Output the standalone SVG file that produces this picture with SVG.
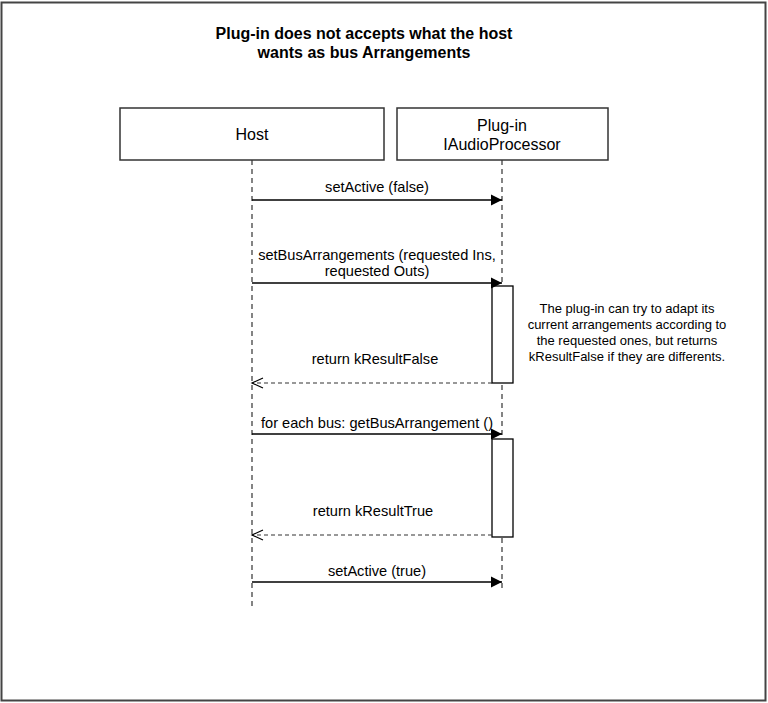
<svg xmlns="http://www.w3.org/2000/svg" width="768" height="703" viewBox="0 0 768 703">
<defs>
<marker id="solid" markerWidth="12" markerHeight="12" refX="11" refY="6" orient="auto" markerUnits="userSpaceOnUse">
<path d="M0,0.5 L11,6 L0,11.5 Z" fill="#000"/>
</marker>
<marker id="open" markerWidth="14" markerHeight="12" refX="12" refY="6" orient="auto" markerUnits="userSpaceOnUse">
<path d="M1,1 L12,6 L1,11" fill="none" stroke="#000" stroke-width="1.2"/>
</marker>
<style>
.t{font-family:"Liberation Sans",Arial,sans-serif;fill:#000;text-anchor:middle}
.box{fill:#fff;stroke:#333;stroke-width:1.5}
.life{stroke:#333;stroke-width:1.2;stroke-dasharray:5,4;fill:none}
.msg{stroke:#000;stroke-width:1.3;fill:none}
.ret{stroke:#333;stroke-width:1.2;stroke-dasharray:4,3;fill:none}
.act{fill:#fff;stroke:#000;stroke-width:1.3}
</style>
</defs>
<rect x="0" y="0" width="768" height="703" fill="#fff"/>
<rect x="1.5" y="2.5" width="764" height="698" fill="none" stroke="#444" stroke-width="2"/>
<g id="title">
<text class="t" x="364" y="39" font-size="16" font-weight="bold">Plug-in does not accepts what the host</text>
<text class="t" x="364" y="58" font-size="16" font-weight="bold">wants as bus Arrangements</text>
</g>
<g id="host">
<line class="life" x1="252" y1="160" x2="252" y2="610"/>
<rect class="box" x="120" y="108" width="264" height="52"/>
<text class="t" x="252" y="140" font-size="16">Host</text>
</g>
<g id="plugin">
<line class="life" x1="502" y1="160" x2="502" y2="592"/>
<rect class="box" x="397" y="108" width="211" height="52"/>
<text class="t" x="502" y="131" font-size="16">Plug-in</text>
<text class="t" x="502" y="150" font-size="16">IAudioProcessor</text>
</g>
<g id="activation1"><rect class="act" x="492" y="286" width="21" height="97"/></g>
<g id="activation2"><rect class="act" x="492" y="439" width="21" height="98"/></g>
<g id="note">
<text class="t" x="627" y="313" font-size="13">The plug-in can try to adapt its</text>
<text class="t" x="627" y="329" font-size="13">current arrangements according to</text>
<text class="t" x="627" y="345" font-size="13">the requested ones, but returns</text>
<text class="t" x="627" y="361" font-size="13">kResultFalse if they are differents.</text>
</g>
<g id="connectors">
<line class="msg" x1="252" y1="200" x2="502" y2="200" marker-end="url(#solid)"/>
<text class="t" x="377" y="192" font-size="14.6">setActive (false)</text>
<line class="msg" x1="252" y1="283" x2="502" y2="283" marker-end="url(#solid)"/>
<text class="t" x="377" y="260" font-size="14.6">setBusArrangements (requested Ins,</text>
<text class="t" x="377" y="276" font-size="14.6">requested Outs)</text>
<line class="ret" x1="492" y1="383" x2="252" y2="383" marker-end="url(#open)"/>
<text class="t" x="375" y="364" font-size="14.6">return kResultFalse</text>
<line class="msg" x1="252" y1="434" x2="502" y2="434" marker-end="url(#solid)"/>
<text class="t" x="377" y="428" font-size="14.6">for each bus: getBusArrangement ()</text>
<line class="ret" x1="492" y1="535" x2="252" y2="535" marker-end="url(#open)"/>
<text class="t" x="373" y="516" font-size="14.6">return kResultTrue</text>
<line class="msg" x1="252" y1="582" x2="502" y2="582" marker-end="url(#solid)"/>
<text class="t" x="377" y="576" font-size="14.6">setActive (true)</text>
</g>
</svg>
